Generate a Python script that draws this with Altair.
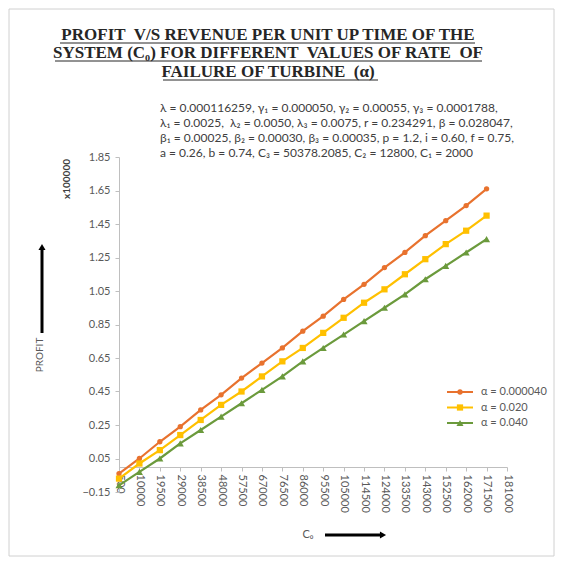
import altair as alt
import pandas as pd

# ---------------- data ----------------
x_labels = ["500", "10000", "19500", "29000", "38500", "48000", "57500", "67000",
            "76500", "86000", "95500", "105000", "114500", "124000", "133500",
            "143000", "152500", "162000", "171500", "181000"]
series_names = ["α = 0.000040", "α = 0.020", "α = 0.040"]
profit_a1 = [-0.04, 0.05, 0.15, 0.24, 0.34, 0.43, 0.53, 0.62, 0.71, 0.81,
             0.90, 1.00, 1.09, 1.19, 1.28, 1.38, 1.47, 1.56, 1.66]
profit_a2 = [-0.07, 0.02, 0.10, 0.19, 0.28, 0.37, 0.45, 0.54, 0.63, 0.71,
             0.80, 0.89, 0.98, 1.06, 1.15, 1.24, 1.33, 1.41, 1.50]
profit_a3 = [-0.11, -0.03, 0.05, 0.14, 0.22, 0.30, 0.38, 0.46, 0.54, 0.63,
             0.71, 0.79, 0.87, 0.95, 1.03, 1.12, 1.20, 1.28, 1.36]
y_ticks = [-0.15, 0.05, 0.25, 0.45, 0.65, 0.85, 1.05, 1.25, 1.45, 1.65, 1.85]

NB = "\u00a0"
title_lines = ["PROFIT " + NB + "V/S REVENUE PER UNIT UP TIME OF THE",
               "SYSTEM (C₀) FOR DIFFERENT " + NB + "VALUES OF RATE " + NB + "OF",
               "FAILURE OF TURBINE " + NB + "(α)"]
param_lines = ["λ = 0.000116259, γ₁ = 0.000050, γ₂ = 0.00055, γ₃ = 0.0001788,",
               "λ₁ = 0.0025, " + NB + "λ₂ = 0.0050, λ₃ = 0.0075, r = 0.234291, β = 0.028047,",
               "β₁ = 0.00025, β₂ = 0.00030, β₃ = 0.00035, p = 1.2, i = 0.60, f = 0.75,",
               "a = 0.26, b = 0.74, C₃ = 50378.2085, C₂ = 12800, C₁ = 2000"]

colors = ["#E8722E", "#FFC000", "#6B9A3C"]
shapes = ["circle", "square", "triangle-up"]
sizes = [28, 50, 40]

rows = []
for name, vals in zip(series_names, [profit_a1, profit_a2, profit_a3]):
    for c, v in zip(x_labels, vals):
        rows.append({"C0": c, "profit": v, "series": name})
df = pd.DataFrame(rows)

W, H = 388, 335

color_scale = alt.Scale(domain=series_names, range=colors)
shape_scale = alt.Scale(domain=series_names, range=shapes)
size_scale = alt.Scale(domain=series_names, range=sizes)

x_enc = alt.X("C0:O", sort=x_labels,
              scale=alt.Scale(domain=x_labels, type="point", padding=0),
              axis=alt.Axis(labelAngle=90, offset=-round(H * 0.15 / 2.0), grid=False,
                            domainColor="#bfbfbf", tickColor="#bfbfbf", tickSize=4,
                            labelColor="#595959", labelFontSize=11, labelFont="Lato",
                            labelPadding=3, title=None))
y_scale = alt.Scale(domain=[-0.15, 1.85], nice=False, zero=False)
y_enc = alt.Y("profit:Q", scale=y_scale,
              axis=alt.Axis(values=y_ticks, format=".2f", grid=False,
                            domainColor="#bfbfbf", tickColor="#bfbfbf", tickSize=4,
                            labelColor="#595959", labelFontSize=11, labelFont="Lato",
                            labelPadding=5, title=None))

base = alt.Chart(df)
lines = base.mark_line(strokeWidth=2.2).encode(
    x=x_enc, y=y_enc,
    color=alt.Color("series:N", scale=color_scale, legend=None),
    detail="series:N")
points = base.mark_point(filled=True, opacity=1).encode(
    x=x_enc, y=y_enc,
    color=alt.Color("series:N", scale=color_scale, legend=None),
    shape=alt.Shape("series:N", scale=shape_scale, legend=None),
    size=alt.Size("series:N", scale=size_scale, legend=None))
data_layer = alt.layer(lines, points)

# ---------------- custom legend ----------------
leg_df = pd.DataFrame({"series": series_names})
leg_y = alt.Y("series:N", scale=alt.Scale(domain=series_names, type="point",
                                           range=[235, 266], padding=0), axis=None)
leg_base = alt.Chart(leg_df)
leg_rule = leg_base.mark_rule(strokeWidth=2).encode(
    x=alt.value(328), x2=alt.value(354), y=leg_y,
    color=alt.Color("series:N", scale=color_scale, legend=None))
leg_pt = leg_base.mark_point(filled=True, opacity=1).encode(
    x=alt.value(341), y=leg_y,
    color=alt.Color("series:N", scale=color_scale, legend=None),
    shape=alt.Shape("series:N", scale=shape_scale, legend=None),
    size=alt.Size("series:N", scale=size_scale, legend=None))
leg_txt = leg_base.mark_text(align="left", baseline="middle", fontSize=11,
                             font="Lato", color="#595959").encode(
    x=alt.value(362), y=leg_y, text="series:N")
legend_layer = alt.layer(leg_rule, leg_pt, leg_txt)

# ---------------- decorations / texts ----------------
one = pd.DataFrame({"k": [0]})


def text_at(txt, x, y, **kw):
    return alt.Chart(one).mark_text(text=txt, **kw).encode(x=alt.value(x), y=alt.value(y))


def rule_at(x, y, x2=None, y2=None, **kw):
    enc = {"x": alt.value(x), "y": alt.value(y)}
    if x2 is not None:
        enc["x2"] = alt.value(x2)
    if y2 is not None:
        enc["y2"] = alt.value(y2)
    return alt.Chart(one).mark_rule(**kw).encode(**enc)


decor = []
title_y = [-122, -104, -85]
ul = [(-59, 356), (-64, 363), (44, 259)]
for t, ty, (u1, u2) in zip(title_lines, title_y, ul):
    decor.append(text_at(t, 149, ty, font="Liberation Serif", fontWeight="bold",
                         fontSize=17, color="#262626", align="center", baseline="middle"))
    decor.append(rule_at(u1, ty + 8, x2=u2, color="#262626", strokeWidth=1))

for t, py in zip(param_lines, [-49, -34, -19, -4]):
    decor.append(text_at(t, 41, py, font="Lato", fontSize=12, color="#404040",
                         align="left", baseline="middle"))

decor.append(text_at("PROFIT", -79, 198, angle=270, font="Lato", fontSize=10,
                     color="#595959", align="center", baseline="middle"))
decor.append(rule_at(-77, 92, y2=176, color="black", strokeWidth=3))
decor.append(alt.Chart(one).mark_point(shape="triangle-up", filled=True, size=50,
                                       color="black", opacity=1).encode(
    x=alt.value(-77), y=alt.value(90)))
decor.append(text_at("x100000", -52, 22, angle=270, font="Lato", fontSize=10,
                     fontWeight="bold", color="#404040", align="center", baseline="middle"))

decor.append(text_at("C₀", 189, 378, font="Lato", fontSize=11, color="#595959",
                     align="center", baseline="middle"))
decor.append(rule_at(206, 378, x2=262, color="black", strokeWidth=3))
decor.append(alt.Chart(one).mark_point(shape="triangle-right", filled=True, size=50,
                                       color="black", opacity=1).encode(
    x=alt.value(264), y=alt.value(378)))

decor.append(alt.Chart(one).mark_rect(filled=False, stroke="#d0d0d0", strokeWidth=1).encode(
    x=alt.value(-110), x2=alt.value(435), y=alt.value(-148), y2=alt.value(399)))

chart = alt.layer(data_layer, legend_layer, *decor).resolve_scale(
    y="independent").properties(
    width=W, height=H,
    padding={"left": 111, "top": 149, "right": 48, "bottom": 66},
    autosize=alt.AutoSizeParams(type="none"),
    background="white",
).configure_view(strokeWidth=0)

chart.save("out.html", embed_options={"renderer": "svg", "actions": False})
